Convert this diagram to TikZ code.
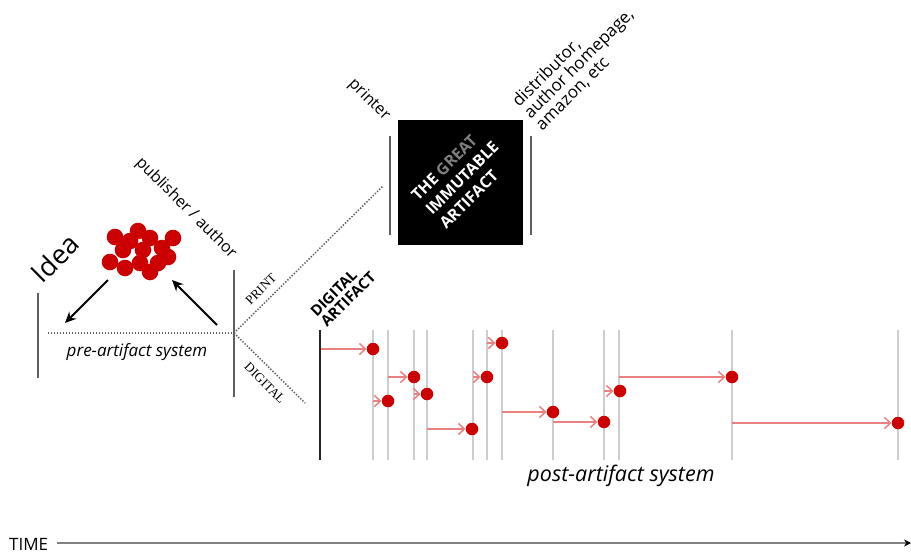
\documentclass[tikz,border=0pt]{standalone}
\usepackage{fontspec}
\setmainfont{Open Sans}
\newfontfamily\serifp{Liberation Serif}
\usetikzlibrary{arrows.meta}
\definecolor{dotred}{RGB}{204,0,0}
\definecolor{evred}{RGB}{234,128,128}
\definecolor{lgray}{RGB}{205,205,205}
\definecolor{dgray}{RGB}{95,95,95}
\tikzset{
  sysline/.style={draw=dgray, line width=2pt},
  tline/.style={draw=lgray, line width=1.5pt},
  dotnode/.style={circle, fill=dotred, inner sep=0pt, minimum size=12.5pt},
  evarrow/.style={draw=evred, line width=1.5pt, -{Straight Barb[length=6pt,width=11pt,line width=1.5pt]}},
  blackarrow/.style={draw=black, line width=2pt, -{Stealth[length=11pt,width=10pt]}},
  dotline/.style={draw=dgray, line width=1.5pt, dash pattern=on 1.4pt off 1.6pt},
  lab/.style={inner sep=0pt, font=\fontsize{16}{17}\selectfont},
}
\begin{document}
\begin{tikzpicture}[x=1pt,y=-1pt]
\useasboundingbox (0,0) rectangle (911,554);

% ---------- pre-artifact system ----------
\coordinate (ideaT) at (38,293);
\coordinate (ideaB) at (38,378);
\draw[sysline] (ideaT) -- (ideaB);
\node[lab, rotate=45, font=\fontsize{27}{28}\selectfont] (idea) at (55,258) {Idea};

\coordinate (pubT) at (234,270);
\coordinate (pubB) at (234,397);
\draw[sysline] (pubT) -- (pubB);
\node[lab, rotate=-45] (pub) at (186,208) {publisher / author};

% blob
\foreach \x/\y in {115/237,138/231,150/238,173/238,130/241,123/250,143/250,162/248,168/257,110/262,125/268,140/263,150/272,158/263}
  \fill[dotred] (\x,\y) circle (8.3pt);
\node[inner sep=0pt, minimum width=75pt, minimum height=52pt] (blob) at (141,252) {};

\coordinate (junction) at (234,333);
\coordinate (preL) at (48,333);
\draw[dotline] (preL) -- (junction);
\node[lab, font=\fontsize{17}{18}\selectfont\itshape] (pre) at (137,352) {pre-artifact system};

\coordinate (a1s) at (108,280);
\coordinate (a1e) at (65,323);
\coordinate (a2s) at (217,325);
\coordinate (a2e) at (172,280);
\draw[blackarrow] (a1s) -- (a1e);
\draw[blackarrow] (a2s) -- (a2e);

% ---------- print branch ----------
\coordinate (printEnd) at (383,186);
\draw[dotline] (junction) -- (printEnd);
\node[lab, rotate=45, font=\serifp\fontsize{13}{14}\selectfont] (printlab) at (261,289) {PRINT};

\node[fill=black, minimum size=125pt, inner sep=0pt] (artifact) at (460,182) {};
\node[rotate=45, inner sep=0pt, align=left, text=white, font=\bfseries\fontsize{16}{20}\selectfont] (arttext) at (462,178)
  {THE \textcolor{gray}{GREAT}\\IMMUTABLE\\ARTIFACT};
\coordinate (prT) at (390,136);
\coordinate (prB) at (390,235);
\draw[sysline] (prT) -- (prB);
\coordinate (diT) at (531,136);
\coordinate (diB) at (531,235);
\draw[sysline] (diT) -- (diB);
\node[lab, rotate=-45] (printer) at (369,100) {printer};
\node[lab, rotate=45, anchor=south west, align=left, font=\fontsize{17}{16.5}\selectfont] (distr) at (544,133)
  {distributor,\\author homepage,\\amazon, etc};

% ---------- digital branch ----------
\coordinate (digEnd) at (305,403);
\draw[dotline] (junction) -- (digEnd);
\node[lab, rotate=-45, font=\serifp\fontsize{13}{14}\selectfont] (diglab) at (265,383) {DIGITAL};

\node[lab, rotate=45, align=left, font=\bfseries\fontsize{15}{14.5}\selectfont] (digart) at (343,294) {DIGITAL\\ARTIFACT};

\coordinate (bT) at (320,330);
\coordinate (bB) at (320,460);
\draw[draw=black!85, line width=2.5pt] (bT) -- (bB);

\foreach \x in {373,388,414,427,473,487,502,553,604,619,732,898}
  \draw[tline] (\x,330) -- (\x,460);

\node[dotnode] (d1) at (373,349) {};
\node[dotnode] (d2) at (388,401) {};
\node[dotnode] (d3) at (414,377) {};
\node[dotnode] (d4) at (427,394) {};
\node[dotnode] (d5) at (472,429) {};
\node[dotnode] (d6) at (487,377) {};
\node[dotnode] (d7) at (502,343) {};
\node[dotnode] (d8) at (553,412) {};
\node[dotnode] (d9) at (604,422) {};
\node[dotnode] (d10) at (620,391) {};
\node[dotnode] (d11) at (732,377) {};
\node[dotnode] (d12) at (898,423) {};

\coordinate (s1) at (321,349);
\coordinate (s2) at (373,401);
\coordinate (s3) at (388,377);
\coordinate (s4) at (414,394);
\coordinate (s5) at (427,429);
\coordinate (s6) at (473,377);
\coordinate (s7) at (487,343);
\coordinate (s8) at (502,412);
\coordinate (s9) at (553,422);
\coordinate (s10) at (604,391);
\coordinate (s11) at (619,377);
\coordinate (s12) at (732,423);
\foreach \i in {1,...,12}
  \draw[evarrow] (s\i) -- (d\i.west);

\node[lab, font=\fontsize{21.5}{22}\selectfont\itshape] (post) at (621,476) {post-artifact system};

% ---------- time ----------
\node[lab, anchor=base west, font=\fontsize{17}{18}\selectfont] (time) at (9,550) {TIME};
\coordinate (timeStart) at (57,543);
\coordinate (timeEnd) at (911,543);
\draw[draw=gray, line width=2pt, -{Stealth[length=7pt,width=7pt,color=black]}] (timeStart) -- (timeEnd);
\end{tikzpicture}
\end{document}
